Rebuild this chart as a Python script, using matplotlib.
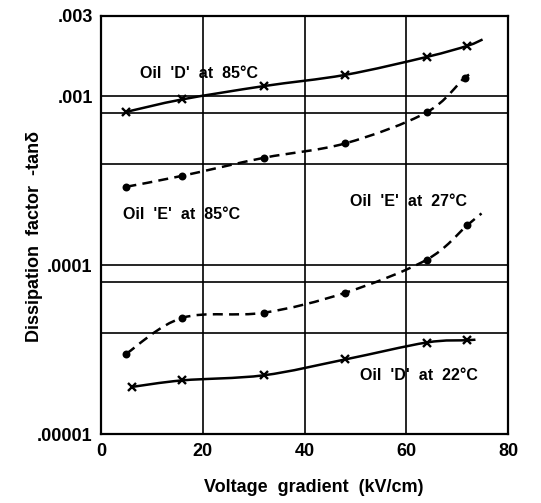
import matplotlib
matplotlib.use("Agg")
import matplotlib.pyplot as plt
import numpy as np
from matplotlib.path import Path
import matplotlib.patches as pch

plt.rcParams['font.family'] = ['Liberation Sans', 'DejaVu Sans']
plt.rcParams['font.weight'] = 'bold'
plt.rcParams['axes.labelweight'] = 'bold'

# measured points (kV/cm, tan delta); last value of each list is where the drawn curve stops
d85_x = [5, 16, 32, 48, 64, 72, 75]
d85_y = [8.1e-4, 9.6e-4, 1.15e-3, 1.34e-3, 1.71e-3, 1.99e-3, 2.17e-3]
e85_x = [5, 16, 32, 48, 64, 71.5, 73.3]
e85_y = [2.92e-4, 3.39e-4, 4.33e-4, 5.27e-4, 8.04e-4, 1.29e-3, 1.36e-3]
e27_x = [5, 16, 32, 48, 64, 72, 74.8]
e27_y = [3.01e-5, 4.9e-5, 5.25e-5, 6.89e-5, 1.08e-4, 1.73e-4, 2.03e-4]
d22_x = [6, 16, 32, 48, 64, 72, 73.6]
d22_y = [1.91e-5, 2.09e-5, 2.24e-5, 2.78e-5, 3.5e-5, 3.61e-5, 3.64e-5]

ygrid = [1e-3, 8e-4, 4e-4, 1e-4, 8e-5, 4e-5]
yticks = [3e-3, 1e-3, 1e-4, 1e-5]
ylabels = ['.003', '.001', '.0001', '.00001']
xticks = [0, 20, 40, 60, 80]


def smooth_path(xs, ys):
    # catmull-rom through the points, done in log y, handed to matplotlib as bezier
    x = np.array(xs, float)
    y = np.log10(ys)
    verts = [(x[0], y[0])]
    codes = [Path.MOVETO]
    n = len(x)
    for i in range(n - 1):
        p0 = (x[max(i - 1, 0)], y[max(i - 1, 0)])
        p1 = (x[i], y[i])
        p2 = (x[i + 1], y[i + 1])
        p3 = (x[min(i + 2, n - 1)], y[min(i + 2, n - 1)])
        c1 = (p1[0] + (p2[0] - p0[0]) / 6, p1[1] + (p2[1] - p0[1]) / 6)
        c2 = (p2[0] - (p3[0] - p1[0]) / 6, p2[1] - (p3[1] - p1[1]) / 6)
        verts += [c1, c2, p2]
        codes += [Path.CURVE4] * 3
    verts = [(vx, 10 ** vy) for vx, vy in verts]
    return Path(verts, codes)


fig = plt.figure(figsize=(5.41, 5.03), dpi=100)
ax = fig.add_axes([0.1867, 0.1362, 0.7523, 0.8326])
ax.set_yscale('log')
ax.set_xlim(0, 80)
ax.set_ylim(1e-5, 3e-3)

for g in ygrid:
    ax.axhline(g, color='black', lw=1.2, zorder=1)
for g in [20, 40, 60]:
    ax.axvline(g, color='black', lw=1.2, zorder=1)

for xs, ys, ls, mk, ms in [(d85_x, d85_y, '-', 'x', 5.5),
                           (e85_x, e85_y, (0, (4, 2.5)), 'o', 4),
                           (e27_x, e27_y, (0, (4, 2.5)), 'o', 4),
                           (d22_x, d22_y, '-', 'x', 5.5)]:
    ax.add_patch(pch.PathPatch(smooth_path(xs, ys), fill=False, lw=1.8,
                               ls=ls, color='black', zorder=3))
    ax.plot(xs[:-1], ys[:-1], ls='none', marker=mk, ms=ms, mew=1.7,
            color='black', zorder=4)

ax.text(19.3, 1.36e-3, "Oil  'D'  at  85°C", ha='center', va='center', fontsize=11.5)
ax.text(15.8, 2.0e-4, "Oil  'E'  at  85°C", ha='center', va='center', fontsize=11.5)
ax.text(60.5, 2.4e-4, "Oil  'E'  at  27°C", ha='center', va='center', fontsize=11.5)
ax.text(62.5, 2.24e-5, "Oil  'D'  at  22°C", ha='center', va='center', fontsize=11.5)

ax.set_yticks(yticks)
ax.set_yticklabels(ylabels)
ax.yaxis.set_minor_locator(matplotlib.ticker.NullLocator())
ax.set_xticks(xticks)
ax.tick_params(length=0, labelsize=13, pad=6)
for s in ax.spines.values():
    s.set_linewidth(1.6)

ax.set_xlabel('Voltage  gradient  (kV/cm)', fontsize=13)
ax.set_ylabel('Dissipation  factor  -tanδ', fontsize=13)
ax.xaxis.set_label_coords(0.523, -0.106)
ax.yaxis.set_label_coords(-0.142, 0.473)

fig.savefig('out.png', dpi=100)
